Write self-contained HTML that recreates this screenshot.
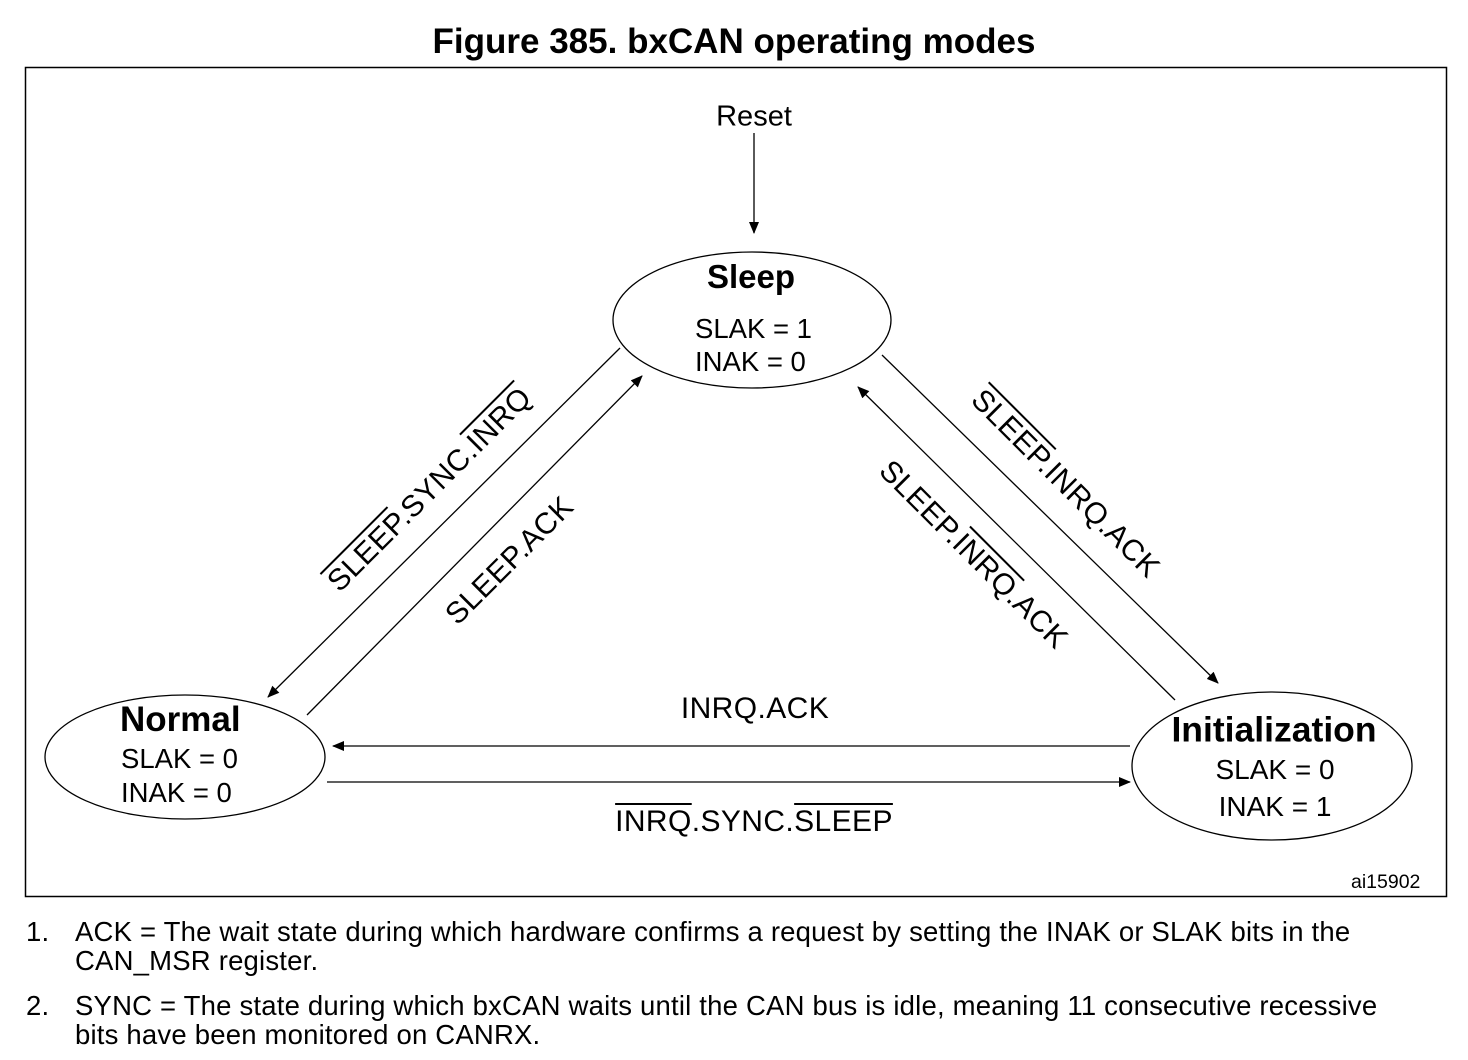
<!DOCTYPE html>
<html><head><meta charset="utf-8"><style>
body{margin:0;width:1468px;height:1060px;background:#fff;font-family:"Liberation Sans",Arial,sans-serif;position:relative;overflow:hidden;color:#000}
.a{position:absolute;white-space:nowrap}
.c{transform:translate(-50%,-50%)}
.o{text-decoration:overline;text-decoration-thickness:1.5px}
.lbl{font-size:30px;letter-spacing:0.4px}
.fn{font-size:27.5px;line-height:29px;letter-spacing:0.2px}
</style></head><body>
<div class="a" style="left:0;width:1468px;top:22px;text-align:center;font-size:35px;font-weight:bold">Figure 385. bxCAN operating modes</div>
<svg class="a" style="left:0;top:0" width="1468" height="1060">
<defs><marker id="ar" markerWidth="12" markerHeight="10" refX="11" refY="5" orient="auto" markerUnits="userSpaceOnUse"><path d="M0,0 L12,5 L0,10 Z" fill="#000"/></marker></defs>
<rect x="25.5" y="67.5" width="1421" height="829" fill="none" stroke="#000" stroke-width="1.5"/>
<g fill="none" stroke="#000" stroke-width="1.3">
<ellipse cx="752" cy="320" rx="139" ry="68"/>
<ellipse cx="185" cy="757" rx="140" ry="62"/>
<ellipse cx="1272" cy="766" rx="140" ry="74"/>
<line x1="754" y1="133" x2="754" y2="233" marker-end="url(#ar)"/>
<line x1="620" y1="348" x2="268" y2="697" marker-end="url(#ar)"/>
<line x1="307" y1="715" x2="642" y2="376" marker-end="url(#ar)"/>
<line x1="882" y1="355" x2="1218" y2="683" marker-end="url(#ar)"/>
<line x1="1175" y1="700" x2="858" y2="387" marker-end="url(#ar)"/>
<line x1="1130" y1="746" x2="333" y2="746" marker-end="url(#ar)"/>
<line x1="327" y1="782" x2="1130" y2="782" marker-end="url(#ar)"/>
</g></svg>
<div class="a c" style="left:754px;top:117px;font-size:29px">Reset</div>
<div class="a c" style="left:751px;top:277px;font-size:33px;font-weight:bold">Sleep</div>
<div class="a" style="left:695px;top:312px;font-size:27.5px;line-height:33px">SLAK = 1<br>INAK = 0</div>
<div class="a" style="left:120px;top:700px;font-size:35px;font-weight:bold">Normal</div>
<div class="a" style="left:121px;top:742px;font-size:27.5px;line-height:34px">SLAK = 0<br>INAK = 0</div>
<div class="a c" style="left:1274px;top:730px;font-size:35.5px;font-weight:bold">Initialization</div>
<div class="a c" style="left:1275px;top:788px;font-size:28px;line-height:37px;text-align:center">SLAK = 0<br>INAK = 1</div>
<div class="a c lbl" style="left:755px;top:709px">INRQ.ACK</div>
<div class="a c lbl" style="left:754px;top:822px"><span class="o">INRQ</span>.SYNC.<span class="o">SLEEP</span></div>
<div class="a lbl" style="left:430px;top:490px;transform:translate(-50%,-50%) rotate(-45deg)"><span class="o">SLEEP</span>.SYNC.<span class="o">INRQ</span></div>
<div class="a lbl" style="left:510px;top:561px;transform:translate(-50%,-50%) rotate(-45deg)">SLEEP.ACK</div>
<div class="a lbl" style="left:1065px;top:484px;transform:translate(-50%,-50%) rotate(45deg)"><span class="o">SLEEP</span>.INRQ.ACK</div>
<div class="a lbl" style="left:973px;top:555px;transform:translate(-50%,-50%) rotate(45deg)">SLEEP.<span class="o">INRQ</span>.ACK</div>
<div class="a" style="left:1351px;top:871px;font-size:19.5px">ai15902</div>
<div class="a fn" style="left:26px;top:917px">1.</div>
<div class="a fn" style="left:75px;top:917px">ACK = The wait state during which hardware confirms a request by setting the INAK or SLAK bits in the<br>CAN_MSR register.</div>
<div class="a fn" style="left:26px;top:991px">2.</div>
<div class="a fn" style="left:75px;top:991px">SYNC = The state during which bxCAN waits until the CAN bus is idle, meaning 11 consecutive recessive<br>bits have been monitored on CANRX.</div>
</body></html>
